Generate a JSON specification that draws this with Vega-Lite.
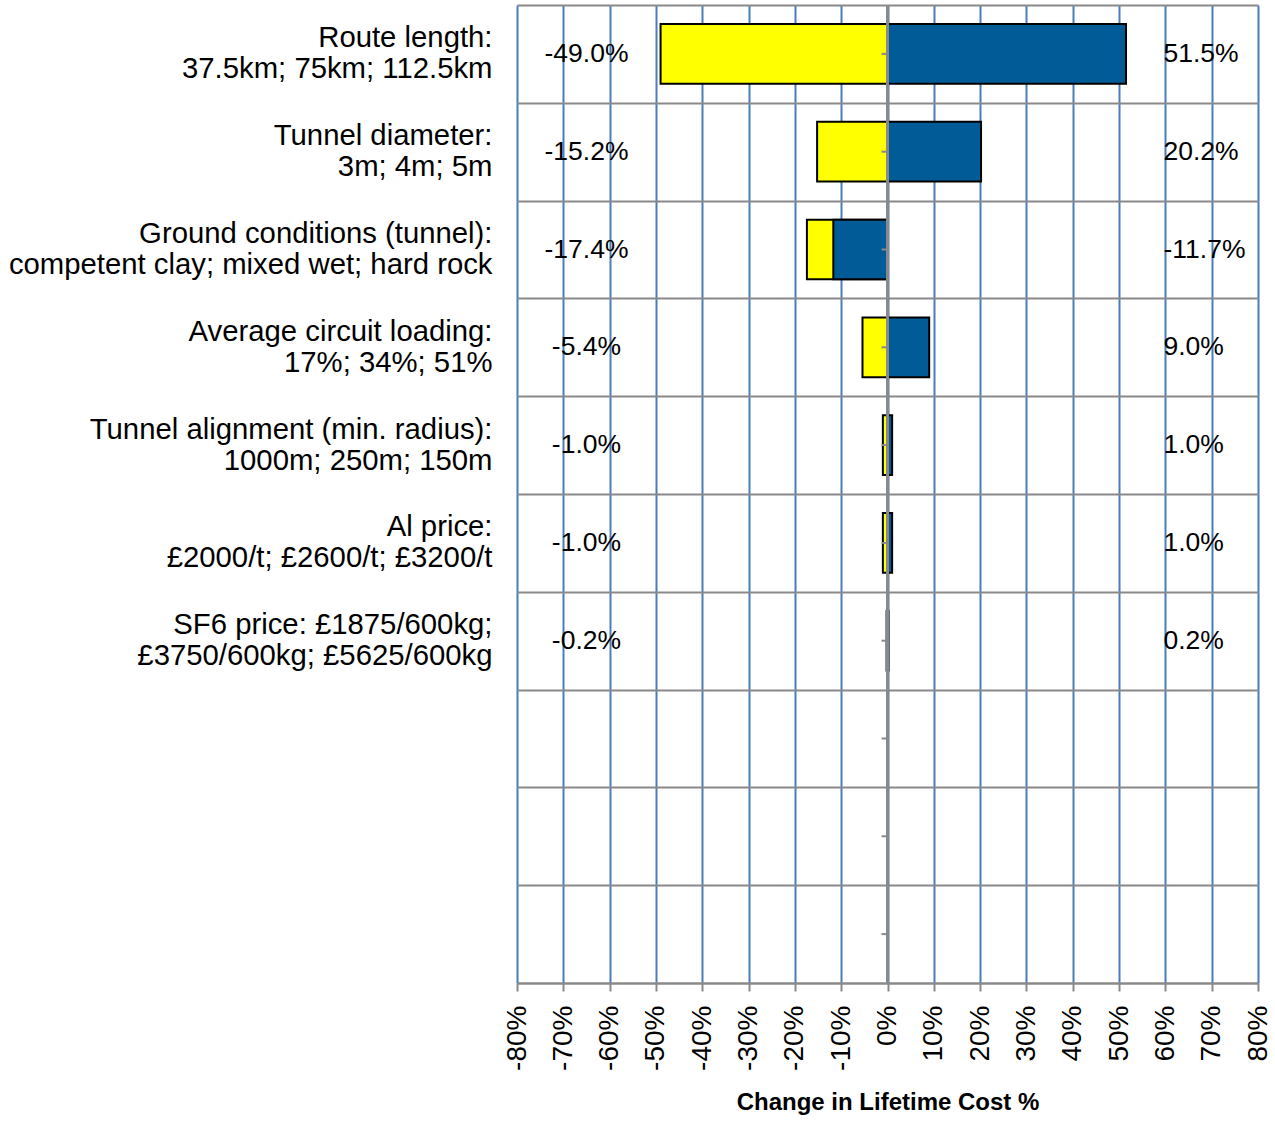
{
  "$schema": "https://vega.github.io/schema/vega-lite/v6.json",
  "width": 741,
  "height": 978,
  "autosize": {"type": "none"},
  "padding": {"left": 517, "top": 5, "right": 17, "bottom": 145},
  "background": "white",
  "config": {
    "view": {"stroke": null},
    "font": "Liberation Sans",
    "locale": {"number": {"decimal": ".", "thousands": ",", "grouping": [3], "currency": ["$", ""], "minus": "-"}}
  },
  "data": {
    "values": [
      {"factor": "Route length:|37.5km; 75km; 112.5km", "low": -0.490, "high": 0.515},
      {"factor": "Tunnel diameter:|3m; 4m; 5m", "low": -0.152, "high": 0.202},
      {"factor": "Ground conditions (tunnel):|competent clay; mixed wet; hard rock", "low": -0.174, "high": -0.117},
      {"factor": "Average circuit loading:|17%; 34%; 51%", "low": -0.054, "high": 0.090},
      {"factor": "Tunnel alignment (min. radius):|1000m; 250m; 150m", "low": -0.010, "high": 0.010},
      {"factor": "Al price:|£2000/t; £2600/t; £3200/t", "low": -0.010, "high": 0.010},
      {"factor": "SF6 price: £1875/600kg;|£3750/600kg; £5625/600kg", "low": -0.002, "high": 0.002},
      {"factor": "b1"},
      {"factor": "b2"},
      {"factor": "b3"}
    ]
  },
  "layer": [
    {
      "mark": {"type": "bar", "fill": "#FFFF00", "stroke": "#000000", "strokeWidth": 2, "height": {"band": 0.61}},
      "encoding": {
        "y": {
          "field": "factor", "type": "nominal", "sort": null,
          "scale": {"domain": [
            "Route length:|37.5km; 75km; 112.5km",
            "Tunnel diameter:|3m; 4m; 5m",
            "Ground conditions (tunnel):|competent clay; mixed wet; hard rock",
            "Average circuit loading:|17%; 34%; 51%",
            "Tunnel alignment (min. radius):|1000m; 250m; 150m",
            "Al price:|£2000/t; £2600/t; £3200/t",
            "SF6 price: £1875/600kg;|£3750/600kg; £5625/600kg",
            "b1", "b2", "b3"], "paddingInner": 0, "paddingOuter": 0},
          "axis": {
            "title": null,
            "domain": false,
            "ticks": false,
            "tickBand": "extent",
            "grid": true,
            "gridColor": "#898989",
            "gridWidth": 2,
            "gridOpacity": 1,
            "labelExpr": "isString(datum.value) && indexof(datum.value, '|') >= 0 ? split(datum.value, '|') : ''",
            "labelFontSize": 29.3,
            "labelColor": "#000000",
            "labelAlign": "right",
            "labelBaseline": "middle",
            "labelLineHeight": 31,
            "labelOffset": -16,
            "labelPadding": 25,
            "labelLimit": 700
          }
        },
        "x": {
          "field": "low", "type": "quantitative",
          "scale": {"domain": [-0.8, 0.8], "nice": false, "zero": false},
          "axis": {
            "title": "Change in Lifetime Cost %",
            "titleFontSize": 24,
            "titleFontWeight": "bold",
            "titleColor": "#000000",
            "titlePadding": 20,
            "values": [-0.8, -0.7, -0.6, -0.5, -0.4, -0.3, -0.2, -0.1, 0, 0.1, 0.2, 0.3, 0.4, 0.5, 0.6, 0.7, 0.8],
            "format": ".0%",
            "labelAngle": 270,
            "labelFontSize": 28,
            "labelColor": "#000000",
            "labelPadding": 14,
            "labelFlush": false,
            "labelOverlap": false,
            "domainColor": "#898989",
            "domainWidth": 2,
            "tickColor": "#898989",
            "tickWidth": 2,
            "tickSize": 8,
            "grid": true,
            "gridColor": "#4A7EBB",
            "gridWidth": 2,
            "gridOpacity": 1
          }
        },
        "x2": {"datum": 0}
      }
    },
    {
      "mark": {"type": "bar", "fill": "#005B96", "stroke": "#000000", "strokeWidth": 2, "height": {"band": 0.61}},
      "encoding": {
        "y": {"field": "factor", "type": "nominal", "sort": null},
        "x": {"field": "high", "type": "quantitative"},
        "x2": {"datum": 0}
      }
    },
    {
      "mark": {"type": "rule", "color": "#898989", "strokeWidth": 2},
      "encoding": {
        "x": {"datum": 0, "type": "quantitative"}
      }
    },
    {
      "mark": {"type": "rule", "color": "#898989", "strokeWidth": 2, "x2Offset": -6},
      "encoding": {
        "y": {"field": "factor", "type": "nominal", "sort": null},
        "x": {"datum": 0, "type": "quantitative"},
        "x2": {"datum": 0}
      }
    },
    {
      "transform": [{"filter": "isValid(datum.low)"}],
      "mark": {"type": "text", "fontSize": 26.5, "color": "#000000", "align": "center", "baseline": "middle"},
      "encoding": {
        "y": {"field": "factor", "type": "nominal", "sort": null},
        "x": {"datum": -0.65, "type": "quantitative"},
        "text": {"field": "low", "type": "quantitative", "format": ".1%"}
      }
    },
    {
      "transform": [{"filter": "isValid(datum.high)"}],
      "mark": {"type": "text", "fontSize": 26.5, "color": "#000000", "align": "left", "baseline": "middle"},
      "encoding": {
        "y": {"field": "factor", "type": "nominal", "sort": null},
        "x": {"datum": 0.596, "type": "quantitative"},
        "text": {"field": "high", "type": "quantitative", "format": ".1%"}
      }
    }
  ]
}
